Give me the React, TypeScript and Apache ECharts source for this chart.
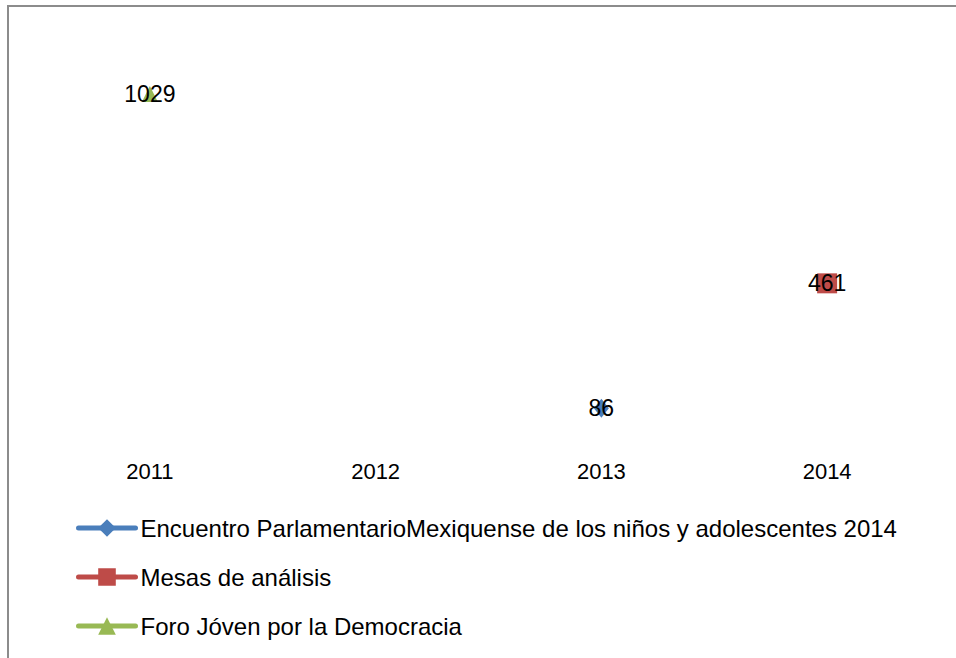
import React, { useEffect, useRef } from "react";
import * as echarts from "echarts";

const categories = ["2011", "2012", "2013", "2014"];
const seriesNames = [
  "Encuentro ParlamentarioMexiquense de los niños y adolescentes 2014",
  "Mesas de análisis",
  "Foro Jóven por la Democracia",
];
const encuentroValues = [null, null, 86, null];
const mesasValues = [null, null, null, 461];
const foroValues = [1029, null, null, null];

const FONT = "Liberation Sans, Arial, sans-serif";

export default function App() {
  const ref = useRef<HTMLDivElement>(null);
  useEffect(() => {
    if (!ref.current) return;
    const chart = echarts.init(ref.current, null, { renderer: "svg" });
    const label = {
      show: true,
      position: "inside",
      color: "#000",
      fontSize: 23,
      fontFamily: FONT,
      textBorderWidth: 0,
      textBorderColor: "transparent",
    };
    chart.setOption({
      animation: false,
      backgroundColor: "#fff",
      textStyle: { fontFamily: FONT },
      graphic: [
        {
          type: "rect",
          shape: { x: 8, y: 6, width: 1000, height: 700 },
          style: { fill: "none", stroke: "#8c8c8c", lineWidth: 2 },
          silent: true,
        },
      ],
      grid: { left: 37, right: 16, top: 37, bottom: 221 },
      xAxis: {
        type: "category",
        data: categories,
        boundaryGap: true,
        axisLine: { show: false },
        axisTick: { show: false },
        axisLabel: { color: "#000", fontSize: 22, margin: 23, fontFamily: FONT },
        splitLine: { show: false },
      },
      yAxis: {
        type: "value",
        min: 0,
        max: 1200,
        show: false,
        splitLine: { show: false },
      },
      legend: {
        orient: "vertical",
        left: 71,
        top: 511,
        itemWidth: 57,
        itemHeight: 22,
        itemGap: 25,
        lineStyle: { width: 5, cap: "round" },
        textStyle: { color: "#000", fontSize: 24, fontFamily: FONT },
        data: seriesNames,
      },
      series: [
        {
          name: seriesNames[0],
          type: "line",
          data: encuentroValues,
          symbol: "diamond",
          symbolSize: [15, 19],
          itemStyle: { color: "#4A7EBB" },
          lineStyle: { width: 5, color: "#4A7EBB", cap: "round" },
          label,
        },
        {
          name: seriesNames[1],
          type: "line",
          data: mesasValues,
          symbol: "rect",
          symbolSize: 20,
          itemStyle: { color: "#BE4B48" },
          lineStyle: { width: 5, color: "#BE4B48", cap: "round" },
          label,
        },
        {
          name: seriesNames[2],
          type: "line",
          data: foroValues,
          symbol: "triangle",
          symbolSize: [16, 16],
          itemStyle: { color: "#98B954" },
          lineStyle: { width: 5, color: "#98B954", cap: "round" },
          label,
        },
      ],
    });
    return () => chart.dispose();
  }, []);
  return (
    <div
      ref={ref}
      style={{ position: "fixed", left: 0, top: 0, width: 956, height: 658 }}
    />
  );
}
